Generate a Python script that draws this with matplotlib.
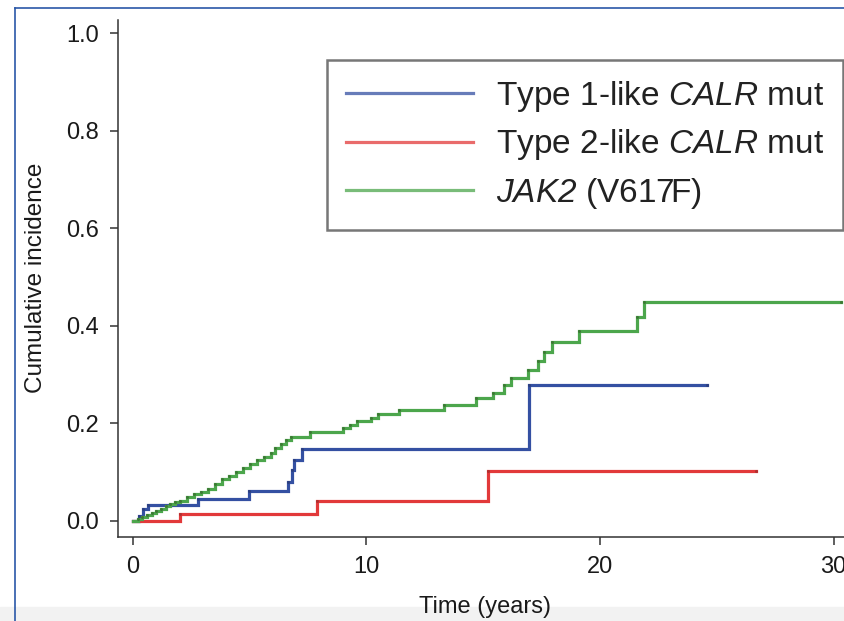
import matplotlib
matplotlib.use("Agg")
import matplotlib.pyplot as plt
from matplotlib.lines import Line2D
from matplotlib.patches import Rectangle

plt.rcParams['font.family'] = ['Liberation Sans', 'DejaVu Sans']
# only the legend uses mathtext, for the italic gene names
plt.rcParams['mathtext.fontset'] = 'custom'
plt.rcParams['mathtext.rm'] = 'Liberation Sans:italic'
plt.rcParams['mathtext.it'] = 'Liberation Sans:italic'

# step curves: time (years) and cumulative incidence after each step
type1_t = [0.0, 0.25, 0.45, 0.65, 2.78, 4.97, 6.64, 6.8, 6.9, 7.24, 16.96, 24.6]
type1_v = [0.0, 0.010, 0.025, 0.033, 0.045, 0.062, 0.080, 0.105, 0.125, 0.148, 0.279, 0.279]

type2_t = [0.0, 2.0, 7.9, 15.2, 26.7]
type2_v = [0.0, 0.014, 0.041, 0.103, 0.103]

jak2_t = [0.0, 0.2, 0.4, 0.6, 0.8, 1.0, 1.2, 1.4, 1.6, 1.8, 2.0, 2.3, 2.6, 2.9,
          3.2, 3.5, 3.8, 4.1, 4.4, 4.7, 5.0, 5.3, 5.6, 5.9, 6.1, 6.35, 6.55, 6.75,
          7.6, 9.0, 9.3, 9.6, 10.2, 10.5, 11.4, 13.3, 14.7, 15.4, 15.9, 16.2,
          16.9, 17.35, 17.6, 17.95, 19.1, 21.6, 21.9, 30.3]
jak2_v = [0.0, 0.004, 0.008, 0.012, 0.016, 0.020, 0.025, 0.030, 0.035, 0.038,
          0.040, 0.048, 0.055, 0.060, 0.066, 0.075, 0.085, 0.092, 0.100, 0.108,
          0.117, 0.124, 0.130, 0.140, 0.150, 0.158, 0.166, 0.172, 0.182, 0.190,
          0.196, 0.205, 0.212, 0.220, 0.227, 0.238, 0.252, 0.262, 0.279, 0.294,
          0.309, 0.328, 0.347, 0.367, 0.389, 0.419, 0.449, 0.449]

labels = ["Type 1-like $\\mathrm{CALR}$ mut",
          "Type 2-like $\\mathrm{CALR}$ mut",
          "$\\mathrm{JAK2}$ (V617F)"]
colors = ['#3450a2', '#e2393a', '#4ca64c']
marks = ['#2c3f80', '#b03030', '#3d7a35']

fig = plt.figure(figsize=(8.44, 6.21), dpi=100)

# screenshot frame and bottom band
fig.patches.append(Rectangle((0, 0), 1, 14 / 621, transform=fig.transFigure,
                             color='#f2f2f2', zorder=-5))
fig.lines.append(Line2D([15 / 844, 15 / 844], [0, 1 - 8 / 621],
                        transform=fig.transFigure, color='#2a58a8', lw=1.2))
fig.lines.append(Line2D([15 / 844, 1], [1 - 8 / 621, 1 - 8 / 621],
                        transform=fig.transFigure, color='#2a58a8', lw=1.2))

ax = fig.add_axes([118 / 844, 1 - 537 / 621, 734 / 844, 517 / 621])
ax.patch.set_alpha(0)

for t, v, c, m in [(type1_t, type1_v, colors[0], marks[0]),
                   (type2_t, type2_v, colors[1], marks[1]),
                   (jak2_t, jak2_v, colors[2], marks[2])]:
    ax.step(t, v, where='post', color=c, lw=2.3, solid_joinstyle='miter')
    ax.plot(t[1:], v[1:], 'o', ms=2.2, color=m, mew=0)

ax.set_xlim(-0.64, 30.79)
ax.set_ylim(-0.033, 1.027)
ax.set_xticks([0, 10, 20, 30])
ax.set_yticks([0.0, 0.2, 0.4, 0.6, 0.8, 1.0])
ax.set_yticklabels(['0.0', '0.2', '0.4', '0.6', '0.8', '1.0'])
ax.spines['top'].set_visible(False)
ax.spines['right'].set_visible(False)
for s in ['left', 'bottom']:
    ax.spines[s].set_color('#333333')
    ax.spines[s].set_linewidth(1.1)
ax.tick_params(direction='out', length=6, width=1.1, color='#333333',
               labelsize=17, labelcolor='#1a1a1a', pad=8)

ax.set_xlabel('Time (years)', fontsize=17, color='#1a1a1a')
ax.xaxis.set_label_coords(485 / 844, 1 - 607 / 621, transform=fig.transFigure)
ax.set_ylabel('Cumulative incidence', fontsize=17.5, color='#1a1a1a')
ax.yaxis.set_label_coords(36 / 844, 1 - 278 / 621, transform=fig.transFigure)
ax.xaxis.label.set_va('center')
ax.yaxis.label.set_va('center')

handles = [Line2D([], [], color=c, lw=2.3, alpha=0.75) for c in colors]
leg = fig.legend(handles, labels, loc='upper left',
                 bbox_to_anchor=(327 / 844, 1 - 60 / 621), fontsize=24,
                 frameon=True, fancybox=False, handlelength=3.8,
                 handletextpad=0.7, labelspacing=0.4, borderpad=0.57,
                 borderaxespad=0)
leg.get_frame().set_edgecolor('#555555')
leg.get_frame().set_linewidth(1.8)
for txt in leg.get_texts():
    txt.set_color('#222222')

fig.savefig('out.png', dpi=100)
